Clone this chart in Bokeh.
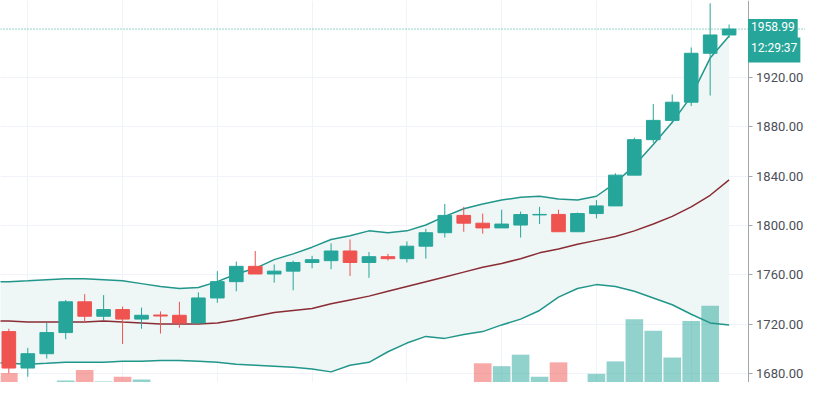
from bokeh.plotting import figure
from bokeh.models import (Range1d, FixedTicker, NumeralTickFormatter, Span, Label,
                          BoxAnnotation, ColumnDataSource)
from bokeh.embed import file_html
from bokeh.resources import INLINE

# ---- data ----
opens = [1714.2, 1684.7, 1696.3, 1713.4, 1738.3, 1726.6, 1732.0, 1724.3, 1727.6, 1727.4,
         1721.2, 1741.4, 1754.6, 1767.0, 1760.8, 1763.1, 1770.1, 1771.6, 1779.4, 1770.1,
         1774.8, 1773.2, 1783.3, 1794.2, 1808.2, 1801.9, 1798.1, 1800.4, 1808.6, 1809.0,
         1795.0, 1809.7, 1815.9, 1840.8, 1869.5, 1885.1, 1899.8, 1939.4, 1954.2]
closes = [1684.7, 1696.3, 1713.4, 1738.3, 1726.6, 1732.0, 1724.3, 1727.4, 1726.8, 1721.2,
          1741.4, 1754.6, 1767.0, 1760.8, 1763.1, 1770.1, 1772.4, 1779.4, 1770.1, 1774.8,
          1773.2, 1783.3, 1794.2, 1808.2, 1801.9, 1798.1, 1801.2, 1808.9, 1809.0, 1795.0,
          1809.7, 1815.9, 1840.8, 1869.5, 1885.1, 1899.8, 1939.4, 1954.2, 1958.99]
highs = [1716.5, 1701.0, 1721.2, 1739.8, 1744.5, 1743.7, 1734.4, 1733.6, 1730.5, 1738.3,
         1746.0, 1763.1, 1770.9, 1779.4, 1768.5, 1771.6, 1775.5, 1785.6, 1788.7, 1778.6,
         1777.1, 1787.2, 1797.3, 1817.5, 1815.1, 1809.7, 1812.8, 1811.3, 1815.1, 1812.8,
         1810.5, 1820.6, 1842.3, 1871.1, 1898.3, 1906.0, 1944.1, 1979.8, 1962.7]
lows = [1680.5, 1677.7, 1692.4, 1708.0, 1721.9, 1723.5, 1704.1, 1716.5, 1712.6, 1717.3,
        1721.2, 1737.5, 1746.8, 1760.8, 1753.8, 1747.6, 1765.4, 1764.7, 1759.2, 1757.7,
        1771.7, 1770.1, 1773.2, 1790.3, 1795.0, 1793.4, 1798.1, 1790.3, 1801.2, 1795.0,
        1795.0, 1805.8, 1815.9, 1840.8, 1867.0, 1882.7, 1896.7, 1905.2, 1952.0]
volumes = [2200, 800, 1000, 1400, 2500, 1300, 1800, 1500, 900, 1000,
           800, 700, 900, 1000, 800, 700, 900, 800, 1000, 900,
           700, 800, 900, 1000, 1100, 3200, 2900, 4100, 1800, 3300,
           1000, 2100, 3400, 7800, 6600, 3800, 7600, 9200, 900]

# Bollinger bands (first value belongs to the bar just left of the view)
bb_upper = [1754.3, 1754.6, 1755.3, 1756.1, 1756.9, 1756.9, 1756.1, 1755.3, 1753.0, 1750.7,
            1749.1, 1749.9, 1754.6, 1760.8, 1765.4, 1772.4, 1777.1, 1782.5, 1788.7, 1791.8,
            1795.7, 1794.2, 1795.7, 1800.4, 1807.4, 1813.6, 1817.5, 1820.6, 1822.9, 1823.7,
            1821.4, 1820.6, 1823.7, 1834.6, 1848.5, 1865.6, 1883.5, 1904.5, 1935.5, 1953.4]
bb_basis = [1722.7, 1722.7, 1721.9, 1721.9, 1721.9, 1721.9, 1722.7, 1721.9, 1721.2, 1720.4,
            1720.4, 1720.4, 1721.2, 1723.5, 1726.6, 1729.7, 1731.3, 1732.8, 1736.7, 1739.8,
            1742.9, 1746.8, 1750.7, 1754.6, 1758.4, 1762.3, 1766.2, 1769.3, 1773.2, 1777.9,
            1781.0, 1784.9, 1788.0, 1791.1, 1795.7, 1801.2, 1807.4, 1815.1, 1824.5, 1836.9]
bb_lower = [1689.3, 1688.5, 1687.8, 1688.5, 1689.3, 1689.3, 1689.3, 1690.1, 1690.1, 1690.9,
            1690.9, 1690.1, 1689.3, 1687.8, 1687.0, 1686.2, 1685.4, 1683.9, 1681.6, 1687.0,
            1689.3, 1697.9, 1704.9, 1710.3, 1708.7, 1711.8, 1714.2, 1719.6, 1724.3, 1731.3,
            1742.1, 1749.1, 1752.2, 1750.7, 1746.8, 1741.4, 1735.9, 1728.2, 1721.2, 1719.6]

price_ticks = [1680, 1720, 1760, 1800, 1840, 1880, 1920]
last_price = 1958.99
last_price_text = "1958.99"
countdown_text = "12:29:37"

UP = "#26a69a"
DOWN = "#ef5350"

idx = list(range(len(opens)))
band_x = list(range(-1, len(opens)))
colors = [UP if c >= o else DOWN for o, c in zip(opens, closes)]

src = ColumnDataSource(dict(
    x=idx, open=opens, close=closes, high=highs, low=lows, vol=volumes, color=colors,
    top=[max(o, c) for o, c in zip(opens, closes)],
    bottom=[min(o, c) for o, c in zip(opens, closes)],
))
bsrc = ColumnDataSource(dict(x=band_x, up=bb_upper, mid=bb_basis, lo=bb_lower))

AXIS_X = 39.0   # price scale sits just right of the last bar
p = figure(width=805, height=382, output_backend="svg", toolbar_location=None,
           x_range=Range1d(-0.44, 42.03), y_range=Range1d(1673.0, 1982.1),
           y_axis_location="right", min_border_left=0, min_border_right=0,
           min_border_top=0, min_border_bottom=0, outline_line_color=None,
           background_fill_color="white", border_fill_color="white")
p.extra_y_ranges = {"vol": Range1d(1200, 41000)}

p.xaxis.visible = False
p.xgrid.ticker = FixedTicker(ticks=[1, 6, 11, 16, 21, 26, 31, 36])
p.xgrid.grid_line_color = "#f0f3fa"
p.ygrid.grid_line_color = "#f0f3fa"

# white price-scale area (hides grid lines right of the scale)
p.add_layout(BoxAnnotation(left=AXIS_X, fill_color="white", fill_alpha=1.0,
                           line_color=None, level="underlay"))

ax = p.yaxis[0]
ax.fixed_location = AXIS_X
ax.ticker = FixedTicker(ticks=price_ticks)
ax.formatter = NumeralTickFormatter(format="0.00")
ax.axis_line_color = "#a3a6af"
ax.major_tick_line_color = "#a3a6af"
ax.major_tick_out = 4
ax.major_tick_in = 0
ax.minor_tick_line_color = None
ax.major_label_text_font = "Roboto"
ax.major_label_text_font_size = "13px"
ax.major_label_text_color = "#4c4f57"
ax.major_label_standoff = 4

# band fill
p.varea(x="x", y1="lo", y2="up", source=bsrc, fill_color="#eef6f6")

# volume
p.vbar(x="x", width=0.93, top="vol", bottom=0, source=src, y_range_name="vol",
       fill_color="color", fill_alpha=0.5, line_color=None)

# bands
p.line(x="x", y="up", source=bsrc, line_color="#21968a", line_width=1.5)
p.line(x="x", y="lo", source=bsrc, line_color="#21968a", line_width=1.5)
p.line(x="x", y="mid", source=bsrc, line_color="#8a2c34", line_width=1.5)

# candles
p.segment(x0="x", y0="low", x1="x", y1="high", source=src, line_color="color", line_width=1)
p.vbar(x="x", width=0.72, top="top", bottom="bottom", source=src,
       fill_color="color", line_color="color", line_width=1)

# last price line
p.add_layout(Span(location=last_price, dimension="width", line_color=UP,
                  line_dash="1 2", line_width=1))

for txt, yoff in ((last_price_text, 0), (countdown_text, -21)):
    p.add_layout(Label(x=AXIS_X, y=last_price, y_offset=yoff, x_offset=0, text=txt,
                       text_color="white", text_font="Roboto", text_font_size="12px",
                       text_baseline="middle", text_align="left",
                       background_fill_color=UP, padding=(3, 3, 3, 8)))

open("out.html", "w").write(file_html(p, INLINE))
